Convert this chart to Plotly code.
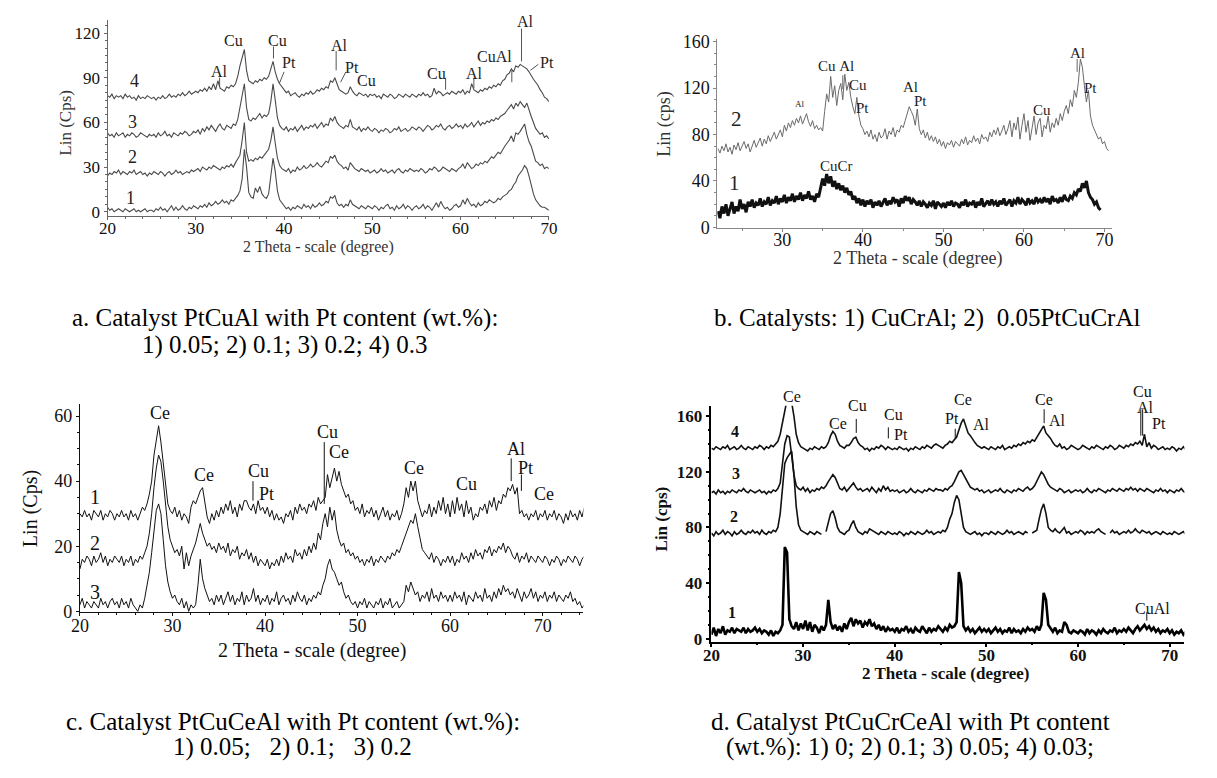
import plotly.graph_objects as go

W, H = 1217, 778
SERIF = "Liberation Serif"
STEP = 0.25

# ---------------- Panel a : PtCuAl (start 20.0) ----------------
a_x0 = 20.0
a1 = [3,1,2,0,1,2,1,0,2,1,0,1,2,0,1,0,1,2,0,1,
      1,0,2,1,3,1,2,0,2,4,1,3,1,2,4,2,1,3,2,4,
      3,2,4,3,5,3,6,4,5,7,5,6,8,6,7,5,8,7,9,11,
      14,22,42,30,13,10,9,16,13,17,12,10,9,12,24,36,27,14,8,6,
      4,2,3,1,3,2,4,3,2,5,3,4,2,5,3,4,6,4,5,7,
      6,10,9,11,6,4,5,3,5,4,8,5,4,3,2,4,3,2,4,3,
      2,4,3,1,3,2,4,5,2,3,1,4,2,3,5,2,4,3,1,3,
      4,2,3,5,2,4,3,1,4,6,3,7,4,2,3,1,2,4,5,3,
      4,8,5,9,6,4,5,3,6,4,5,7,6,8,7,6,7,9,8,10,
      11,12,14,15,18,20,24,26,28,31,29,24,17,12,8,6,4,3,3,2,
      1]
a2 = [24,26,25,27,26,28,25,27,26,25,27,26,28,25,26,27,25,26,24,26,
      25,27,26,25,27,26,24,26,27,25,26,28,26,27,25,26,27,26,28,27,
      28,29,27,30,29,28,30,29,31,30,29,28,30,29,31,30,32,30,33,36,
      38,48,60,40,34,35,34,36,35,37,36,38,40,42,48,57,46,36,31,29,
      28,27,29,26,28,27,30,28,29,31,29,30,32,30,31,33,31,30,32,34,
      33,37,36,38,34,32,31,29,30,28,33,31,29,28,27,29,28,27,28,26,
      27,28,26,27,29,27,28,26,27,28,26,28,29,27,26,28,27,29,28,27,
      28,27,29,28,26,27,29,28,30,29,27,28,30,29,28,27,29,28,27,29,
      30,32,29,33,31,29,30,32,31,33,32,34,33,35,37,36,38,40,39,42,
      44,46,48,51,47,53,52,54,57,59,52,47,44,38,34,33,31,32,29,30,
      29]
a3 = [53,51,52,50,53,51,52,53,50,52,51,53,52,50,51,53,52,51,50,52,
      51,52,50,53,51,52,54,51,52,50,53,52,51,53,52,54,53,51,52,54,
      53,55,52,56,54,57,55,58,56,54,57,59,56,55,58,57,56,59,58,62,
      70,80,86,70,62,61,63,62,64,66,63,65,64,66,74,86,75,63,58,56,
      55,57,54,56,55,57,54,56,58,55,57,56,58,57,59,56,58,60,57,59,
      58,63,61,64,60,58,57,56,58,57,62,57,56,55,57,54,56,55,57,55,
      54,56,55,53,55,54,56,55,53,54,56,55,57,54,55,56,54,55,57,56,
      55,57,56,54,56,58,57,55,56,58,57,59,56,55,57,58,56,57,59,57,
      58,56,59,57,58,60,57,59,61,58,60,59,61,60,62,61,63,62,64,65,
      66,68,70,72,69,73,71,74,72,70,73,68,64,60,56,54,52,53,50,51,
      49]
a4 = [78,77,79,76,78,77,78,76,79,77,78,76,77,75,78,76,77,76,78,77,
      76,77,75,77,76,78,76,77,79,77,78,77,79,78,80,78,79,81,79,80,
      81,80,82,81,83,81,84,82,86,82,88,83,82,81,84,83,85,84,86,91,
      98,104,109,95,88,87,86,88,87,89,88,90,89,91,97,101,94,89,86,84,
      82,80,81,78,79,80,78,77,79,78,80,79,81,79,80,82,81,83,82,84,
      83,88,87,90,86,82,81,80,79,80,84,81,79,78,80,79,78,79,77,79,
      78,79,77,78,76,79,78,77,79,78,76,77,79,78,77,79,78,77,79,78,
      77,79,78,80,78,79,77,78,83,79,81,80,78,79,80,79,81,80,79,81,
      80,82,79,81,80,86,82,81,80,82,81,83,82,84,83,85,84,86,85,88,
      89,92,93,96,94,98,97,99,98,97,96,94,91,89,87,85,82,80,77,76,
      74]

# ---------------- Panel b : CuCrAl / 0.05PtCuCrAl ----------------
b2_x0 = 22.0
b2 = [68,64,70,66,72,65,69,63,71,67,73,66,70,74,68,72,65,71,75,69,
      73,77,70,76,72,79,74,78,82,76,80,84,78,88,83,90,86,92,88,94,
      90,96,89,93,98,91,87,92,85,88,84,86,83,100,115,108,130,112,122,105,
      118,124,110,132,118,125,112,104,98,112,96,88,85,80,83,78,84,76,80,74,
      82,77,79,85,76,83,80,86,78,84,82,88,86,92,98,104,100,96,88,102,
      85,80,84,77,82,75,79,74,78,72,76,70,74,68,73,71,75,69,74,72,
      70,76,72,78,71,75,73,79,74,77,72,80,76,78,74,82,78,84,80,86,
      79,83,88,80,85,92,78,90,84,95,76,88,98,82,92,75,86,96,80,90,
      94,78,88,85,96,82,90,86,94,88,98,92,100,105,98,110,104,118,112,125,
      145,138,122,108,118,96,88,84,80,76,78,72,74,68,66]
b1_x0 = 22.0
b1 = [14,8,18,12,20,10,16,22,12,18,14,24,16,20,13,22,18,24,17,21,
      19,25,18,22,20,26,19,23,21,27,20,25,22,28,21,26,23,29,22,27,
      24,30,23,28,25,31,24,27,22,29,26,35,42,36,46,38,44,35,40,33,
      38,32,36,30,34,28,31,24,27,21,25,19,24,18,23,20,24,17,22,19,
      23,18,21,25,19,23,20,26,22,24,18,25,21,27,23,26,20,24,22,19,
      23,18,22,20,17,21,19,23,16,22,20,18,21,17,22,19,23,18,21,20,
      17,22,19,24,18,21,20,23,17,22,19,25,18,21,23,19,24,20,22,18,
      23,20,25,19,22,24,18,23,21,26,20,24,22,19,25,21,23,20,26,22,
      24,21,26,22,25,20,27,23,24,21,26,22,28,24,23,27,25,30,28,33,
      31,38,34,40,30,26,24,20,22,17,15]

# ---------------- Panel c : PtCuCeAl ----------------
c_x0 = 20.0
c1 = [30,29,31,29,30,28,31,30,29,31,28,30,29,31,30,28,30,29,31,29,
      30,28,31,29,30,28,30,32,31,33,36,40,48,53,57,52,45,38,33,31,
      30,32,29,31,28,30,29,27,32,34,33,35,37,38,33,29,27,30,28,31,
      29,32,30,33,31,34,30,32,29,33,31,34,34,32,31,33,30,34,31,32,
      30,32,29,31,28,30,28,29,27,30,29,31,28,32,30,33,31,32,30,33,
      32,34,31,35,33,34,35,42,38,41,44,40,43,39,37,35,36,33,34,31,
      32,30,33,29,31,30,32,29,31,28,30,32,29,31,28,30,29,31,28,30,
      33,38,35,40,37,40,34,31,29,31,30,33,29,32,30,34,31,35,30,33,
      29,34,30,35,31,33,29,34,30,32,28,30,29,32,31,33,30,34,32,35,
      31,34,33,36,35,38,37,39,36,38,30,31,29,30,28,30,29,31,28,30,
      29,31,28,30,29,31,28,30,29,27,30,28,31,29,30,28,31,29,32]
c2 = [13,16,15,17,16,14,17,15,16,18,15,17,14,16,15,17,16,15,17,14,
      16,15,17,14,16,15,17,16,18,20,24,30,38,44,48,46,40,32,26,22,
      20,18,19,17,20,13,18,14,17,19,21,24,27,24,22,20,21,19,20,18,
      21,19,20,18,21,17,19,18,20,16,18,17,19,16,18,15,17,14,16,15,
      14,16,13,15,14,16,14,17,15,18,16,17,15,19,17,18,16,19,17,20,
      18,21,19,24,22,27,30,26,32,28,31,25,22,20,21,18,19,17,18,16,
      17,15,16,14,16,15,17,14,16,15,17,16,15,17,16,18,17,19,18,20,
      22,24,26,28,27,30,26,22,19,18,17,16,18,15,17,16,14,16,15,17,
      15,17,14,16,15,18,16,17,15,18,16,19,17,18,16,19,18,20,17,19,
      18,20,19,21,18,20,19,17,16,18,15,17,16,18,15,17,16,15,17,16,
      15,17,16,14,16,15,17,16,14,16,15,17,16,15,17,16,14,16,17]
c3 = [2,4,1,3,2,1,3,2,1,4,2,3,1,3,4,2,3,1,4,2,
      3,1,4,2,1,0,2,1,4,8,12,18,25,31,33,30,22,14,9,6,
      4,5,3,2,4,1,3,0,2,1,2,8,16,10,7,5,3,4,2,5,
      3,5,2,4,6,3,5,2,4,3,6,2,5,3,4,7,3,5,2,4,
      3,5,2,4,3,6,2,4,5,3,4,2,5,3,6,4,3,5,2,4,
      3,5,4,6,5,8,10,14,16,13,12,10,8,9,6,4,5,3,2,3,
      1,3,2,4,1,3,2,1,3,2,4,1,3,2,4,1,2,3,1,2,
      3,8,6,9,7,5,6,3,5,4,6,3,7,4,5,3,6,4,5,3,
      5,3,6,4,5,3,6,2,5,4,3,6,4,5,3,7,4,5,3,6,
      4,7,5,8,6,7,5,6,4,7,5,3,6,4,5,7,4,6,3,5,
      4,6,3,5,4,6,3,5,4,3,5,4,6,3,4,2,3,1,2]

# ---------------- Panel d : PtCuCrCeAl ----------------
d_x0 = 20.0
d1 = [3,8,2,7,4,9,3,6,5,8,4,7,6,5,8,4,7,5,6,8,
      5,7,4,6,5,3,6,2,5,4,6,10,66,62,14,9,7,12,6,11,
      7,13,6,12,5,10,8,4,9,6,10,28,12,7,10,6,9,5,11,7,
      12,15,9,14,11,13,8,12,10,14,9,11,7,10,6,9,5,8,6,7,
      5,8,4,7,6,9,5,7,4,8,6,5,9,6,4,8,5,7,6,9,
      7,5,8,6,10,8,9,12,48,40,9,6,8,5,7,4,6,8,5,7,
      5,7,4,6,8,5,7,4,6,5,8,4,7,5,6,4,7,5,8,6,
      7,5,9,6,10,33,28,10,7,5,8,4,6,5,12,10,5,4,6,5,
      4,6,5,3,7,4,6,5,3,6,4,7,5,4,6,5,8,4,6,5,
      7,5,8,6,4,7,9,6,8,10,7,9,6,8,5,7,4,6,5,7,
      4,6,3,5,4,6,3,5,4]
d2 = [76,74,77,75,76,78,75,77,76,74,77,75,76,78,76,75,77,76,78,76,
      77,75,78,76,75,77,76,78,77,80,90,110,126,130,133,135,118,95,82,78,
      77,76,75,77,76,75,77,76,75,None,77,84,90,92,87,80,77,76,75,77,
      78,82,85,80,77,76,75,77,76,79,78,77,76,75,77,76,75,77,76,75,
      76,75,77,76,74,76,75,77,76,75,77,76,75,76,78,76,77,75,76,77,
      76,78,77,80,86,90,98,103,100,90,80,77,76,75,76,77,75,76,74,76,
      76,75,77,76,75,77,76,75,76,78,76,77,75,76,77,76,75,77,76,None,
      76,77,78,86,93,97,90,80,78,77,79,77,76,78,80,76,77,75,76,77,
      76,78,77,75,77,76,77,76,78,79,77,76,75,None,76,78,76,77,75,76,
      77,76,78,76,77,79,77,76,78,77,76,77,75,76,77,76,75,77,76,75,
      76,75,77,76,75,76,77,75,76]
d3 = [105,106,104,107,105,106,104,106,105,107,106,105,107,106,108,106,105,107,106,105,
      106,107,105,106,104,106,105,107,106,108,112,125,140,146,145,132,118,110,108,107,
      109,106,108,105,107,106,108,107,109,108,110,113,116,118,116,112,108,107,109,106,
      108,110,112,109,107,108,106,107,108,106,109,107,105,108,106,110,107,109,106,107,
      106,107,105,106,107,105,106,108,106,105,107,106,105,107,106,108,107,106,108,107,
      107,106,108,107,109,110,113,117,120,121,118,114,111,109,108,107,108,106,107,105,
      106,107,105,106,107,106,108,106,105,107,106,105,107,106,108,107,106,108,109,107,
      108,110,113,117,120,118,114,111,109,108,107,106,108,107,105,106,107,105,106,107,
      106,107,105,106,108,106,105,107,106,108,107,106,105,107,106,108,107,106,108,107,
      106,108,107,109,107,108,106,108,107,106,108,107,106,105,107,106,108,106,107,105,
      107,106,105,107,106,108,106,105,107]
d4 = [137,136,138,137,136,138,137,139,136,137,138,136,137,139,137,136,138,137,136,138,
      137,139,138,136,138,137,139,138,140,142,147,155,165,172,172,170,160,147,141,138,
      137,136,135,137,136,138,137,136,138,137,138,141,146,149,147,142,139,138,137,139,
      139,141,144,145,141,139,138,136,137,135,137,136,138,137,139,138,136,138,137,136,
      137,136,138,137,136,137,135,137,136,138,137,136,138,137,139,138,137,139,140,139,
      138,137,139,140,142,141,143,145,150,155,158,152,148,146,143,141,139,138,137,138,
      137,136,138,137,136,138,137,139,136,137,138,137,139,138,140,139,141,140,142,141,
      143,142,145,147,150,153,148,146,144,141,139,138,140,137,138,136,137,139,138,137,
      136,137,139,138,137,136,138,137,139,138,137,136,138,137,139,138,136,137,139,138,
      137,139,138,140,139,141,140,142,139,147,138,141,137,139,138,136,137,138,136,137,
      136,138,137,135,137,136,138,136,135]

# ---------------- peak labels (text, 2theta, intensity) ----------------
a_peaks = [("Al", 32.7, 94), ("Cu", 34.3, 115), ("Cu", 39.2, 115), ("Pt", 40.6, 100),
           ("Al", 46.3, 112), ("Pt", 47.7, 97), ("Cu", 49.3, 88), ("Cu", 57.3, 93),
           ("Al", 61.6, 93), ("CuAl", 63.8, 104), ("Al", 67.3, 128), ("Pt", 69.8, 100)]
a_leaders = [(32.7, 84, 32.7, 90), (38.8, 103, 38.8, 111), (39.45, 86, 40.0, 94),
             (45.9, 95, 45.9, 108), (46.4, 87, 47.0, 94), (58.3, 82, 58.3, 90),
             (61.5, 83, 61.5, 90), (65.8, 87, 65.8, 95), (66.9, 101, 66.9, 123),
             (67.9, 95, 68.8, 99)]
a_nums = [("4", 23.1, 88), ("3", 22.8, 60), ("2", 22.8, 37), ("1", 22.6, 9)]

b_peaks = [("Cu\u00a0Al", 36.6, 139), ("Cu", 39.4, 123), ("Pt", 40.0, 103),
           ("CuCr", 36.7, 53), ("Al", 45.9, 121), ("Pt", 47.1, 109), ("Cu", 62.2, 101),
           ("Al", 66.7, 150), ("Pt", 68.3, 120)]
b_small = [("Al", 32.2, 106)]
b_leaders = [(37.5, 119, 37.5, 131), (66.6, 134, 66.6, 145)]
b_nums = [("2", 24.3, 93), ("1", 24.0, 38)]

c_peaks = [("Ce", 28.7, 61), ("Ce", 33.4, 42), ("Cu", 39.3, 43), ("Pt", 40.2, 36),
           ("Cu", 46.7, 55), ("Ce", 48.0, 49), ("Ce", 56.1, 44), ("Cu", 61.8, 39),
           ("Al", 67.1, 50), ("Pt", 68.2, 44), ("Ce", 70.1, 36)]
c_leaders = [(38.7, 34, 38.7, 40), (46.4, 33, 46.4, 52), (66.6, 40, 66.6, 47),
             (67.7, 37, 67.7, 42)]
c_nums = [("1", 21.6, 35), ("2", 21.6, 21), ("3", 21.6, 6)]

d_peaks = [("Ce", 28.8, 174), ("Ce", 33.8, 155), ("Cu", 35.9, 168), ("Cu", 39.9, 161),
           ("Pt", 40.7, 147), ("Pt", 46.2, 158), ("Ce", 47.5, 172), ("Al", 49.5, 154),
           ("Ce", 56.3, 172), ("Al", 57.8, 157), ("Cu", 67.0, 178), ("Al", 67.4, 166),
           ("Pt", 68.8, 155), ("CuAl", 68.1, 22)]
d_leaders = [(35.8, 148, 35.8, 158), (39.3, 144, 39.3, 152), (46.6, 144, 46.6, 151),
             (56.3, 155, 56.3, 165), (66.85, 146, 66.85, 165), (67.05, 146, 67.05, 165),
             (67.5, 13, 67.5, 19)]
d_nums = [("4", 22.6, 149), ("3", 22.7, 119), ("2", 22.5, 88), ("1", 22.2, 19)]

captions = [("a. Catalyst PtCuAl with Pt content (wt.%):", 280, 318),
            ("1) 0.05; 2) 0.1; 3) 0.2; 4) 0.3", 280, 345),
            ("b. Catalysts: 1) CuCrAl; 2)\u00a0\u00a00.05PtCuCrAl", 932, 318),
            ("c. Catalyst PtCuCeAl with Pt content (wt.%):", 288, 730),
            ("1) 0.05;\u00a0\u00a0\u00a02) 0.1;\u00a0\u00a0\u00a03) 0.2", 288, 756),
            ("d. Catalyst PtCuCrCeAl with Pt content", 915, 730),
            ("(wt.%): 1) 0; 2) 0.1; 3) 0.05; 4) 0.03;", 915, 756)]

fig = go.Figure()


def xs_for(ys, x0):
    return [x0 + STEP * i for i in range(len(ys))]


def add_series(ys, x0, ax, color, width):
    fig.add_trace(go.Scatter(x=xs_for(ys, x0), y=ys, mode="lines",
                             line=dict(color=color, width=width),
                             xaxis="x" + ax, yaxis="y" + ax,
                             showlegend=False, hoverinfo="skip", connectgaps=False))


for s in (a1, a2, a3, a4):
    add_series(s, a_x0, "", "#4a4a4a", 1.1)
add_series(b2, b2_x0, "2", "#6a6a6a", 1.0)
add_series(b1, b1_x0, "2", "#111111", 3.0)
for s in (c1, c2, c3):
    add_series(s, c_x0, "3", "#111111", 1.0)
add_series(d1, d_x0, "4", "#000000", 2.6)
for s in (d2, d3, d4):
    add_series(s, d_x0, "4", "#111111", 1.6)


def px(x):
    return x / W


def py(y):
    return 1 - y / H


def ax_style(color, lw, size, dtick, mdtick, bold=False, ticklen=4, standoff=0):
    return dict(showline=True, linecolor=color, linewidth=lw, showgrid=False, zeroline=False,
                ticks="outside", ticklen=ticklen, tickcolor=color, tickwidth=lw, dtick=dtick,
                tick0=0, ticklabelstandoff=standoff,
                minor=dict(ticks="outside", ticklen=2, tickcolor=color, dtick=mdtick, tick0=0),
                tickfont=dict(family=SERIF, size=size, color="#111111",
                              weight="bold" if bold else "normal"),
                fixedrange=True)


# panel geometry: (x domain px, y domain px, x range, y range)
PANELS = {
    "":  dict(xd=(100, 548), yd=(213, 13), xr=(20, 70), yr=(-2.6, 129)),
    "2": dict(xd=(719, 1120), yd=(226, 33), xr=(21.93, 70.98), yr=(-0.8, 162)),
    "3": dict(xd=(72, 583), yd=(618, 405), xr=(20, 74.4), yr=(-0.3, 63.8)),
    "4": dict(xd=(713, 1193), yd=(648, 407), xr=(20, 71.6), yr=(-2.1, 167.6)),
}

layout = dict(width=W, height=H, margin=dict(l=0, r=0, t=0, b=0),
              paper_bgcolor="white", plot_bgcolor="white", showlegend=False)

styles = {
    "": (ax_style("#666666", 1, 17, 10, 2, ticklen=3, standoff=-6),
         ax_style("#666666", 1, 17, 30, 5, ticklen=3)),
    "2": (ax_style("#888888", 1, 18, 10, 5, ticklen=3, standoff=-8),
          ax_style("#888888", 1, 18, 40, 10, ticklen=3)),
    "3": (ax_style("#111111", 1, 18, 10, 2, ticklen=3, standoff=-6),
          ax_style("#111111", 1, 18, 20, 5, ticklen=3)),
    "4": (ax_style("#000000", 1.5, 17, 10, 5, bold=True, ticklen=4, standoff=-7),
          ax_style("#000000", 1.5, 17, 40, 10, bold=True, ticklen=4)),
}

for k, p in PANELS.items():
    xs, ys = styles[k]
    layout["xaxis" + k] = dict(domain=[px(p["xd"][0]), px(p["xd"][1])], range=list(p["xr"]),
                               anchor="y" + k, **xs)
    layout["yaxis" + k] = dict(domain=[py(p["yd"][0]), py(p["yd"][1])], range=list(p["yr"]),
                               anchor="x" + k, **ys)
fig.update_layout(**layout)


def y_paper(k, v):
    p = PANELS[k]
    d0, d1 = py(p["yd"][0]), py(p["yd"][1])
    r0, r1 = p["yr"]
    return d0 + (v - r0) / (r1 - r0) * (d1 - d0)


def add_text(items, ax, size, color, bold=False):
    for t, x, y in items:
        fig.add_annotation(x=x, y=y_paper(ax, y), xref="x" + ax, yref="paper", text=t,
                           showarrow=False, xanchor="center", yanchor="middle",
                           font=dict(family=SERIF, size=size, color=color,
                                     weight="bold" if bold else "normal"))


def add_leaders(items, ax, color, width=1):
    for x0, y0, x1, y1 in items:
        fig.add_shape(type="line", xref="x" + ax, yref="y" + ax, x0=x0, y0=y0, x1=x1, y1=y1,
                      line=dict(color=color, width=width))


add_text(a_peaks, "", 16, "#222222")
add_text(a_nums, "", 18, "#222222")
add_leaders(a_leaders, "", "#555555")
add_text(b_peaks, "2", 15, "#222222")
add_text(b_small, "2", 9, "#222222")
add_text(b_nums, "2", 21, "#222222")
add_leaders(b_leaders, "2", "#666666")
add_text(c_peaks, "3", 18, "#111111")
add_text(c_nums, "3", 20, "#111111")
add_leaders(c_leaders, "3", "#111111")
add_text(d_peaks, "4", 16, "#111111")
add_text(d_nums, "4", 16, "#111111", bold=True)
add_leaders(d_leaders, "4", "#111111")


def paper_text(t, x, y, size, bold=False, angle=0, color="#111111"):
    fig.add_annotation(x=px(x), y=py(y), xref="paper", yref="paper", text=t, showarrow=False,
                       textangle=angle, xanchor="center", yanchor="middle",
                       font=dict(family=SERIF, size=size, color=color,
                                 weight="bold" if bold else "normal"))


# axis titles
paper_text("2 Theta - scale (degree)", 314, 245, 16, color="#333333")
paper_text("Lin (Cps)", 57, 118, 17, angle=-90, color="#333333")
paper_text("2 Theta - scale (degree)", 923, 257, 18, color="#333333")
paper_text("Lin (cps)", 665, 120, 18, angle=-90, color="#333333")
paper_text("2 Theta - scale (degree)", 308, 657, 20)
paper_text("Lin (Cps)", 22, 512, 20, angle=-90)
paper_text("2 Theta - scale (degree)", 951, 681, 17, bold=True)
paper_text("Lin (cps)", 662, 523, 17, bold=True, angle=-90)

for t, x, y in captions:
    paper_text(t, x, y, 25, color="#000000")

fig.write_html("out.html", config={"displayModeBar": False},
               post_script="document.body.style.margin='0px';")
